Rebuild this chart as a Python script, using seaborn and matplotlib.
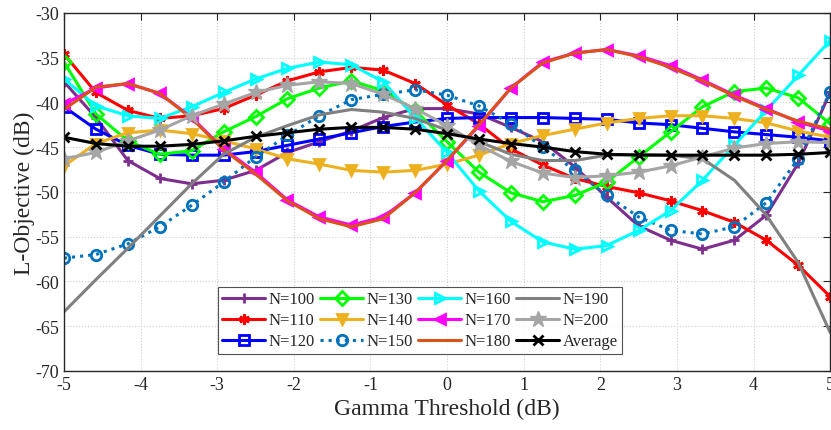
import numpy as np
import pandas as pd
import matplotlib
matplotlib.use('Agg')
import matplotlib.pyplot as plt
import seaborn as sns

gamma = np.linspace(-5, 5, 25)

n100 = [-37.7, -41.7, -46.5, -48.5, -49.1, -48.7, -47.6, -45.6, -44.4, -43.2, -41.7, -40.7, -40.7,
        -41.3, -42.8, -44.4, -47.2, -50.6, -53.8, -55.4, -56.4, -55.4, -52.6, -46.8, -38.9]
n110 = [-34.6, -38.9, -40.9, -41.8, -41.5, -40.7, -39.2, -37.6, -36.6, -36.1, -36.4, -37.9, -40.3,
        -42.4, -45.2, -47.0, -48.5, -49.4, -50.1, -51.0, -52.1, -53.4, -55.4, -58.2, -61.7]
n120 = [-40.5, -43.0, -44.8, -45.8, -45.9, -45.9, -45.5, -44.8, -44.1, -43.4, -42.7, -42.2, -41.8,
        -41.7, -41.7, -41.7, -41.8, -41.9, -42.3, -42.5, -42.9, -43.3, -43.6, -43.9, -44.3]
n130 = [-35.5, -41.3, -44.3, -45.8, -45.4, -43.3, -41.6, -39.6, -38.4, -37.6, -38.7, -40.9, -44.4,
        -47.8, -50.1, -51.1, -50.4, -48.9, -46.1, -43.3, -40.5, -38.8, -38.4, -39.5, -42.4]
n140 = [-47.1, -44.6, -43.4, -43.1, -43.5, -44.3, -45.2, -46.3, -46.9, -47.6, -47.8, -47.6, -46.9,
        -45.9, -44.6, -43.7, -43.0, -42.3, -41.8, -41.5, -41.5, -41.8, -42.3, -43.2, -43.9]
n150 = [-57.4, -57.0, -55.8, -53.9, -51.5, -48.9, -46.1, -43.7, -41.5, -39.7, -39.1, -38.6, -39.2,
        -40.4, -42.4, -45.0, -47.6, -50.4, -52.8, -54.3, -54.7, -53.9, -51.2, -46.3, -38.8]
n160 = [-37.4, -40.4, -41.5, -41.8, -40.5, -38.9, -37.4, -36.2, -35.5, -35.8, -37.7, -41.7, -45.6,
        -49.9, -53.3, -55.6, -56.4, -56.0, -54.3, -52.1, -48.7, -44.8, -40.9, -37.0, -33.1]
n170 = [-40.2, -38.4, -37.9, -39.0, -41.7, -45.2, -47.8, -50.9, -52.8, -53.7, -52.8, -50.1, -46.5,
        -42.6, -38.4, -35.5, -34.5, -34.1, -34.8, -35.9, -37.5, -39.2, -40.7, -42.2, -43.2]
n180 = [-40.8, -38.3, -37.9, -39.0, -41.8, -45.3, -48.0, -51.0, -53.0, -53.9, -53.0, -50.1, -46.5,
        -42.5, -38.4, -35.6, -34.5, -34.1, -34.9, -36.1, -37.6, -39.3, -40.8, -42.1, -43.0]
n190 = [-63.4, -59.8, -56.3, -52.7, -49.1, -45.8, -43.9, -42.6, -41.4, -40.8, -41.1, -41.8, -43.1,
        -44.4, -45.8, -46.5, -46.5, -45.9, -45.8, -45.9, -46.3, -48.7, -52.6, -57.9, -65.7]
n200 = [-46.3, -45.6, -44.3, -43.1, -41.5, -40.2, -38.9, -38.1, -37.7, -37.9, -39.1, -40.7, -42.6,
        -44.8, -46.6, -47.9, -48.4, -48.2, -47.8, -47.1, -46.1, -45.1, -44.6, -44.4, -44.5]
average = [-43.9, -44.6, -44.9, -44.9, -44.7, -44.3, -43.8, -43.4, -43.0, -42.8, -42.8, -43.0, -43.5,
           -44.1, -44.6, -45.0, -45.5, -45.8, -45.9, -45.9, -45.9, -45.9, -45.9, -45.8, -45.6]

names = ['N=100', 'N=110', 'N=120', 'N=130', 'N=140', 'N=150',
         'N=160', 'N=170', 'N=180', 'N=190', 'N=200', 'Average']
series = [n100, n110, n120, n130, n140, n150, n160, n170, n180, n190, n200, average]

# colour, marker, marker face, line style
styles = {
    'N=100': ('#7E2F8E', '+', None, '-'),
    'N=110': ('#FF0000', (6, 2, 0), None, '-'),
    'N=120': ('#0000FF', 's', 'none', '-'),
    'N=130': ('#00FF00', 'D', 'none', '-'),
    'N=140': ('#EDB120', 'v', None, '-'),
    'N=150': ('#0072BD', 'o', 'none', ':'),
    'N=160': ('#00FFFF', '>', 'none', '-'),
    'N=170': ('#FF00FF', '<', None, '-'),
    'N=180': ('#D95319', None, None, '-'),
    'N=190': ('#808080', None, None, '-'),
    'N=200': ('#A5A5A5', '*', None, '-'),
    'Average': ('#000000', 'x', None, '-'),
}

sns.set_style('whitegrid')
plt.rcParams['font.family'] = ['Liberation Serif', 'DejaVu Serif']
plt.rcParams['axes.unicode_minus'] = False

fig = plt.figure(figsize=(8.31, 4.31), dpi=100)
ax = fig.add_axes([0.077, 0.137, 0.922, 0.831])

for name, vals in zip(names, series):
    c, m, face, ls = styles[name]
    kw = dict(color=c, linestyle=ls, linewidth=2.2)
    if m is not None:
        kw.update(marker=m, markersize=7.5, markeredgewidth=2, markeredgecolor=c,
                  markerfacecolor=c if face is None else face)
    if m == '*':
        kw['markersize'] = 12
        kw['markeredgewidth'] = 1
    sns.lineplot(x=gamma, y=vals, ax=ax, label=name, **kw)

ax.set_xlim(-5, 5)
ax.set_ylim(-70, -30)
ax.set_xticks(np.arange(-5, 6, 1))
ax.set_yticks(np.arange(-70, -29, 5))
ax.grid(True, linestyle=':', color='#d0d0d0', linewidth=0.8)
ax.tick_params(direction='in', top=True, right=True, labelsize=13, length=5, color='#262626')
for sp in ax.spines.values():
    sp.set_color('#262626')
    sp.set_linewidth(1.0)
ax.set_xlabel('Gamma Threshold (dB)', fontsize=17, labelpad=4)
ax.set_ylabel('L-Objective (dB)', fontsize=17, labelpad=0)

leg = ax.legend(ncol=4, loc='lower left', bbox_to_anchor=(0.19, 0.025), fontsize=12,
                frameon=True, fancybox=False, handlelength=2.6, columnspacing=0.3,
                handletextpad=0.2, borderpad=0.25, labelspacing=0.3)
leg.get_frame().set_edgecolor('#262626')
leg.get_frame().set_linewidth(0.8)

fig.savefig('out.png', dpi=100)
